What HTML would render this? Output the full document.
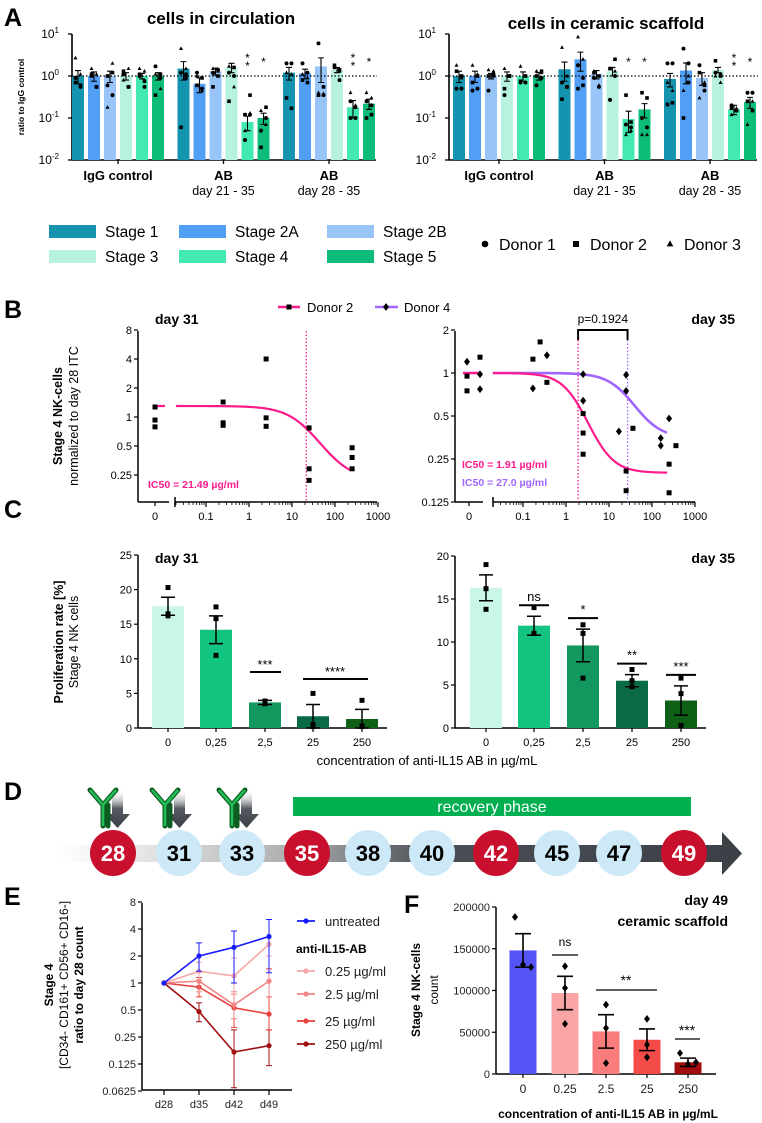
<!DOCTYPE html>
<html><head><meta charset="utf-8"><style>
body{margin:0;background:#fff}
svg{display:block;font-family:"Liberation Sans",Arial,sans-serif}
</style></head><body>
<svg id="fig" width="762" height="1123" viewBox="0 0 762 1123" xmlns="http://www.w3.org/2000/svg">
<defs>
<linearGradient id="tl" x1="0" x2="1" y1="0" y2="0"><stop offset="0" stop-color="#fff"/><stop offset="0.12" stop-color="#e6e6e6"/><stop offset="0.35" stop-color="#a9abad"/><stop offset="0.55" stop-color="#4a4f55"/><stop offset="1" stop-color="#3b4046"/></linearGradient>
<linearGradient id="ar" x1="0" x2="0" y1="0" y2="1"><stop offset="0" stop-color="#fff" stop-opacity="0"/><stop offset="0.5" stop-color="#555a60"/><stop offset="1" stop-color="#3b4046"/></linearGradient>
</defs>
<g font-weight="bold" font-size="25" fill="#000">
<text x="4" y="26">A</text>
<text x="4" y="318">B</text>
<text x="4" y="518">C</text>
<text x="4" y="800">D</text>
<text x="4" y="905">E</text>
<text x="404" y="913">F</text>
</g>
<text x="221" y="24" font-size="17" font-weight="bold" text-anchor="middle">cells in circulation</text>
<text x="606" y="29" font-size="17" font-weight="bold" text-anchor="middle">cells in ceramic scaffold</text>
<text transform="translate(24,97) rotate(-90)" font-size="8.5" font-weight="bold" text-anchor="middle">ratio to IgG control</text>
<g id="A"></g><g id="LEG"></g><g id="B"></g><g id="C"></g><g id="D"></g><g id="E"></g><g id="F"></g>
</svg>
<script>
const NS='http://www.w3.org/2000/svg';
function mk(tag,attrs,name,parent,txt){
  const el=document.createElementNS(NS,tag);
  for(const k in attrs) el.setAttribute(k,attrs[k]);
  
  
  if(txt!==undefined) el.textContent=txt;
  (parent||document.getElementById('fig')).appendChild(el);
  return el;
}
function marker(shape,x,y,s,g,name,fill){
  fill=fill||'#000';
  if(shape==='c') return mk('circle',{cx:x,cy:y,r:s*0.55,fill:fill},name,g);
  if(shape==='s') return mk('rect',{x:x-s/2,y:y-s/2,width:s,height:s,fill:fill},name,g);
  if(shape==='t') return mk('polygon',{points:`${x},${y-s*0.6} ${x-s*0.55},${y+s*0.4} ${x+s*0.55},${y+s*0.4}`,fill:fill},name,g);
  if(shape==='d') return mk('polygon',{points:`${x},${y-s*0.65} ${x+s*0.5},${y} ${x},${y+s*0.65} ${x-s*0.5},${y}`,fill:fill},name,g);
}

/* ===== Panel A data ===== */
const stageNames=['Stage 1','Stage 2A','Stage 2B','Stage 3','Stage 4','Stage 5'];
const stageColors=['#1594b0','#519ff5','#98c4f7','#b6f2de','#42eab0','#0cbc78'];
const groupLabels=['IgG control','AB','AB'];
const groupSub=['','day 21 - 35','day 28 - 35'];
const circVals=[[1,1,1,1,1,1],[1.5,0.65,1.3,1.6,0.08,0.1],[1.2,1.15,1.7,1.4,0.18,0.22]];
const circErr=[[0.35,0.25,0.3,0.2,0.15,0.2],[0.7,0.25,0.25,0.4,0.03,0.03],[0.4,0.3,1.0,0.2,0.08,0.06]];
const circPts=[
[[0.7,0.55,0.9,0.6,2.7,1.1],[1.0,0.55,1.1,0.55,1.5,1.1],[0.6,0.35,1.0,1.2,0.18,2.0],[1.1,0.55,1.3,0.55,0.8,1.5],[1.0,0.55,1.1,0.75,1.5,1.3],[1.7,0.9,0.35,1.1,1.1,0.5]],
[[1.2,1.1,0.06,0.9,4.5,1.5],[1.2,0.5,0.6,0.9,1.0,0.45],[1.2,1.4,0.55,1.0,1.5,1.3],[1.2,1.0,0.25,1.6,1.7,0.55],[0.03,0.12,0.12,0.35,0.05,0.13],[0.05,0.1,0.02,0.18,0.15,0.07]],
[[2,2,0.3,0.17,1.2,1.1],[2,1.2,0.8,0.7,1.1,0.9],[6,0.35,0.35,0.55,0.4,0.38],[1.6,0.8,1.8,1.4,1.7,1.3],[0.25,0.1,0.1,0.18,0.4,0.2],[0.25,0.2,0.1,0.12,0.4,0.3]]];
const circStars=[['','','','','',''],['','','','','**','*'],['','','','','**','*']];
const scafVals=[[1,1,1,1,1,1],[1.45,2.5,1.1,1.3,0.095,0.16],[0.85,1.35,0.9,1.4,0.16,0.24]];
const scafErr=[[0.3,0.3,0.15,0.25,0.25,0.2],[0.7,1.2,0.25,0.3,0.05,0.06],[0.3,0.7,0.3,0.2,0.04,0.07]];
const scafPts=[
[[0.5,0.5,1.3,1.0,1.8,0.9],[0.45,0.5,0.7,1.0,1.8,1.1],[0.45,1.1,1.0,1.0,1.4,1.3],[0.35,1.0,0.5,1.0,1.5,1.0],[0.7,0.7,0.75,1.0,1.7,1.0],[0.6,0.9,1.0,1.3,1.3,1.2]],
[[0.7,0.55,0.28,0.55,4.8,1.0],[1.8,0.9,0.5,0.6,8.5,2.5],[0.9,0.55,1.2,1.0,1.3,0.6],[0.27,1.0,1.5,2.5,1.5,1.3],[0.07,0.06,0.35,0.08,0.04,0.05],[0.1,0.06,0.4,0.3,0.04,0.04]],
[[2,2,0.21,0.23,0.7,0.45],[4.5,2,0.1,0.7,0.45,1.0],[1.8,0.45,1.2,0.6,0.3,0.7],[1.2,1.0,2.3,1.1,1.0,0.7],[0.2,0.15,0.17,0.15,0.12,0.17],[0.4,0.4,0.25,0.15,0.07,0.25]]];
const scafStars=[['','','','','',''],['','','','','*','*'],['','','','','**','*']];
const donorShapes=['c','c','s','s','t','t'];
const aTicks=[1,0,-1,-2];

function panelA(ox,axisX,vals,errs,pts,stars,key){
  const g=document.getElementById('A');
  const ya=v=>160-42*(Math.log10(v)+2);
  const xb=(gi,bi)=>ox+78+gi*105.5+bi*16;
  mk('line',{x1:axisX,y1:ya(10),x2:axisX,y2:160,stroke:'#000','stroke-width':1.6},key+'-y-axis',g);
  mk('line',{x1:axisX,y1:160,x2:ox+376,y2:160,stroke:'#000','stroke-width':1.6},key+'-x-axis',g);
  aTicks.forEach(t=>{
    const y=ya(Math.pow(10,t));
    mk('line',{x1:axisX-4,y1:y,x2:axisX,y2:y,stroke:'#000','stroke-width':1.3},key+'-y-tick',g);
    const tx=mk('text',{x:axisX-13,y:y+4,'font-size':12,'text-anchor':'end'},key+'-y-tick-label',g,'10');
    const sp=mk('tspan',{dy:-5,'font-size':8},key+'-tick-exp',tx,String(t));
  });
  vals.forEach((grp,gi)=>{
    const cx=xb(gi,2.5);
    mk('line',{x1:cx,y1:160,x2:cx,y2:164,stroke:'#000','stroke-width':1.3},key+'-x-tick',g);
    mk('text',{x:cx,y:180,'font-size':13,'font-weight':'bold','text-anchor':'middle'},key+'-group-label',g,groupLabels[gi]);
    if(groupSub[gi]) mk('text',{x:cx,y:195,'font-size':12.5,'text-anchor':'middle'},key+'-group-sublabel',g,groupSub[gi]);
    grp.forEach((v,bi)=>{
      const x=xb(gi,bi);
      mk('rect',{x:x-6,y:ya(v),width:12,height:160-ya(v),fill:stageColors[bi]},key+'-bar',g);
      const e=errs[gi][bi];
      const y1=ya(v+e),y2=ya(Math.max(v-e,v*0.3));
      mk('path',{d:`M${x},${y1}V${y2}M${x-3},${y1}H${x+3}M${x-3},${y2}H${x+3}`,stroke:'#000','stroke-width':1.1,fill:'none'},key+'-error-bar',g);
      pts[gi][bi].forEach((p,pi)=>{
        const jx=x+((pi%2)?2.5:-2.5);
        marker(donorShapes[pi],jx,ya(p),3.6,g,key+'-donor-point');
      });
      const st=stars[gi][bi];
      if(st){
        for(let k=0;k<st.length;k++) mk('text',{x:x,y:(st.length===2?62:66)+k*8,'font-size':12,'text-anchor':'middle'},key+'-significance',g,'*');
      }
    });
  });
  mk('line',{x1:axisX,y1:ya(1),x2:ox+377,y2:ya(1),stroke:'#000','stroke-width':1.2,'stroke-dasharray':'1.5,2'},key+'-reference-line',g);
}
panelA(0,72,circVals,circErr,circPts,circStars,'circ');
panelA(381,449,scafVals,scafErr,scafPts,scafStars,'scaf');

/* legend */
(function(){
  const g=document.getElementById('LEG');
  const bx=[49,179,327], by=[225,250];
  stageNames.forEach((n,i)=>{
    const x=bx[i%3],y=by[Math.floor(i/3)];
    mk('rect',{x:x,y:y,width:47,height:13,fill:stageColors[i]},'legend-swatch-stage',g);
    mk('text',{x:x+56,y:y+12,'font-size':15.5},'legend-label-stage',g,n);
  });
  const dn=['Donor 1','Donor 2','Donor 3'],dx=[485,576,670],ds=['c','s','t'];
  dn.forEach((n,i)=>{
    marker(ds[i],dx[i],244,6,g,'legend-donor-marker');
    mk('text',{x:dx[i]+14,y:250,'font-size':16},'legend-donor-label',g,n);
  });
})();

/* ===== Panel B ===== */
const bTicksL=[8,4,2,1,0.5,0.25];
const bTicksR=[2,1,0.5,0.25,0.125];
const bXTicks=[0.1,1,10,100,1000];
const b31Conc=[0,0,0,0.25,0.25,0.25,2.5,2.5,2.5,25,25,25,250,250,250];
const b31Val=[1.27,0.93,0.79,1.43,0.87,0.82,4.0,0.98,0.8,0.77,0.29,0.22,0.48,0.38,0.29];
const b35D2Conc=[0,0,0,0.17,0.25,0.36,2.5,2.5,2.5,25,25,36,250,250,360];
const b35D2Val=[0.95,0.75,1.29,1.25,1.65,0.86,0.52,0.38,0.27,0.206,0.15,0.41,0.23,0.145,0.31];
const b35D4Conc=[0,0,0,0.17,0.36,2.5,2.5,17,25,25,250,160,160];
const b35D4Val=[1.2,0.98,0.77,0.78,1.33,0.98,0.64,0.39,0.97,0.75,0.48,0.35,0.31];
const zeroJit=[-2,-2,11,0,0,0,0,0,0,0,0,0,0,0,0];
const zeroJit4=[-2,11,11,0,0,0,0,0,0,0,0,0,0];
function hill(x,top,bot,ic,h){return bot+(top-bot)/(1+Math.pow(x/ic,h));}
function logAxis(g,axisX,xLog0,zeroX,logStart,logEnd,yBot,yTop,ticks,yf,key){
  mk('line',{x1:axisX,y1:yTop,x2:axisX,y2:yBot,stroke:'#000','stroke-width':1.5},key+'-y-axis',g);
  mk('line',{x1:axisX,y1:yBot,x2:zeroX+14,y2:yBot,stroke:'#000','stroke-width':1.5},key+'-x-axis-zero',g);
  mk('line',{x1:logStart,y1:yBot,x2:logEnd,y2:yBot,stroke:'#000','stroke-width':1.5},key+'-x-axis',g);
  mk('line',{x1:logStart,y1:yBot-5,x2:logStart,y2:yBot+5,stroke:'#000','stroke-width':1.5},key+'-axis-break',g);
  mk('line',{x1:zeroX,y1:yBot,x2:zeroX,y2:yBot+4,stroke:'#000','stroke-width':1.2},key+'-x-tick',g);
  mk('text',{x:zeroX,y:yBot+18,'font-size':11,'text-anchor':'middle'},key+'-x-tick-label',g,'0');
  ticks.forEach(t=>{
    const y=yf(t);
    mk('line',{x1:axisX-4,y1:y,x2:axisX,y2:y,stroke:'#000','stroke-width':1.2},key+'-y-tick',g);
    mk('text',{x:axisX-6,y:y+4,'font-size':11,'text-anchor':'end'},key+'-y-tick-label',g,String(t));
  });
  bXTicks.forEach((t,i)=>{
    const x=xLog0+43*Math.log10(t);
    mk('line',{x1:x,y1:yBot,x2:x,y2:yBot+5,stroke:'#000','stroke-width':1.2},key+'-x-tick',g);
    mk('text',{x:x,y:yBot+18,'font-size':11,'text-anchor':'middle'},key+'-x-tick-label',g,String(t));
    if(i<4) for(let m=2;m<10;m++){const xm=xLog0+43*Math.log10(t*m);
      mk('line',{x1:xm,y1:yBot,x2:xm,y2:yBot+3,stroke:'#000','stroke-width':0.8},key+'-x-minor-tick',g);}
  });
  for(let m=2;m<10;m++){const xm=xLog0+43*Math.log10(0.01*m); if(xm>logStart) mk('line',{x1:xm,y1:yBot,x2:xm,y2:yBot+3,stroke:'#000','stroke-width':0.8},key+'-x-minor-tick',g);}
}
(function(){
  const g=document.getElementById('B');
  const yl=v=>417-29*Math.log2(v), xl=c=>249+43*Math.log10(c), zl=155;
  logAxis(g,138,249,zl,175,377,502,331,bTicksL,yl,'b31');
  mk('text',{x:155,y:324,'font-size':14,'font-weight':'bold'},'b31-title',g,'day 31');
  mk('line',{x1:xl(21.49),y1:331,x2:xl(21.49),y2:502,stroke:'#ff1a8c','stroke-width':1.3,'stroke-dasharray':'1.5,2'},'b31-ic50-line',g);
  let d=`M${zl},${yl(1.3)}H${zl+10}M176,${yl(hill(0.02,1.3,0.22,21.49,1.2))}`;
  for(let e=-1.7;e<=2.4;e+=0.05){const c=Math.pow(10,e);d+=`L${xl(c)},${yl(hill(c,1.3,0.22,21.49,1.2))}`;}
  mk('path',{d:d,stroke:'#ff1a8c','stroke-width':2.2,fill:'none'},'b31-fit-curve-donor2',g);
  b31Conc.forEach((c,i)=>marker('s',c===0?zl:xl(c),yl(b31Val[i]),5,g,'b31-point-donor2'));
  mk('text',{x:148,y:488,'font-size':10.5,'font-weight':'bold',fill:'#ff1a8c'},'b31-ic50-label',g,'IC50 = 21.49 µg/ml');
  const yr=v=>373-43*Math.log2(v), xr=c=>566+43*Math.log10(c), zr=469;
  logAxis(g,455,566,zr,493,695,502,331,bTicksR,yr,'b35');
  mk('text',{x:735,y:324,'font-size':14,'font-weight':'bold','text-anchor':'end'},'b35-title',g,'day 35');
  mk('line',{x1:xr(1.91),y1:340,x2:xr(1.91),y2:502,stroke:'#ff1a8c','stroke-width':1.3,'stroke-dasharray':'1.5,2'},'b35-ic50-line-donor2',g);
  mk('line',{x1:xr(27),y1:340,x2:xr(27),y2:502,stroke:'#a066ff','stroke-width':1.3,'stroke-dasharray':'1.5,2'},'b35-ic50-line-donor4',g);
  mk('path',{d:`M${xr(1.91)},340V330H${xr(27)}V340`,stroke:'#000','stroke-width':2,fill:'none'},'b35-comparison-bracket',g);
  mk('text',{x:(xr(1.91)+xr(27))/2,y:323,'font-size':12,'text-anchor':'middle'},'b35-p-value',g,'p=0.1924');
  let d4=`M${zr-6},${yr(1)}H${zr+12}M494,${yr(1)}`,d2=`M${zr-6},${yr(1)}H${zr+12}M494,${yr(1)}`;
  for(let e=-1.7;e<=2.4;e+=0.05){const c=Math.pow(10,e);
    d2+=`L${xr(c)},${yr(hill(c,1,0.2,1.91,1.5))}`;d4+=`L${xr(c)},${yr(hill(c,1,0.35,27,1.4))}`;}
  mk('path',{d:d4,stroke:'#a066ff','stroke-width':2.6,fill:'none'},'b35-fit-curve-donor4',g);
  mk('path',{d:d2,stroke:'#ff1a8c','stroke-width':2.2,fill:'none'},'b35-fit-curve-donor2',g);
  b35D2Conc.forEach((c,i)=>marker('s',(c===0?zr:xr(c))+zeroJit[i],yr(b35D2Val[i]),5,g,'b35-point-donor2'));
  b35D4Conc.forEach((c,i)=>marker('d',(c===0?zr:xr(c))+zeroJit4[i],yr(b35D4Val[i]),6,g,'b35-point-donor4'));
  mk('text',{x:462,y:468,'font-size':10.5,'font-weight':'bold',fill:'#ff1a8c'},'b35-ic50-label-donor2',g,'IC50 = 1.91 µg/ml');
  mk('text',{x:462,y:486,'font-size':10.5,'font-weight':'bold',fill:'#a066ff'},'b35-ic50-label-donor4',g,'IC50 = 27.0 µg/ml');
  mk('line',{x1:278,y1:307,x2:300,y2:307,stroke:'#ff1a8c','stroke-width':2.5},'b-legend-line-donor2',g);
  marker('s',289,307,5,g,'b-legend-marker-donor2');
  mk('text',{x:307,y:312,'font-size':13},'b-legend-label-donor2',g,'Donor 2');
  mk('line',{x1:375,y1:307,x2:398,y2:307,stroke:'#a066ff','stroke-width':2.5},'b-legend-line-donor4',g);
  marker('d',386,307,6,g,'b-legend-marker-donor4');
  mk('text',{x:404,y:312,'font-size':13},'b-legend-label-donor4',g,'Donor 4');
  mk('text',{transform:'translate(62,416) rotate(-90)','font-size':12.5,'font-weight':'bold','text-anchor':'middle'},'b-y-axis-title',g,'Stage 4 NK-cells');
  mk('text',{transform:'translate(78,416) rotate(-90)','font-size':12.5,'text-anchor':'middle'},'b-y-axis-subtitle',g,'normalized to day 28 ITC');
})();

/* ===== Panel C ===== */
const cCats=['0','0,25','2,5','25','250'];
const c31Vals=[17.6,14.2,3.7,1.7,1.3];
const c31Err=[1.3,2.0,0.3,1.7,1.4];
const c31Pts=[[16.2,20.3,16.5],[17.5,15.8,10.5],[3.5,3.8,3.9],[5,0.2,0.5],[4,0.3,0.2]];
const c35Vals=[16.3,11.9,9.6,5.5,3.2];
const c35Err=[1.5,1.1,1.9,0.7,1.7];
const c35Pts=[[19,16.2,13.8],[14,11,11],[12,11,5.8],[6.8,5.5,4.8],[5.8,4,0.3]];
const cColors=['#c9f6e6','#12c47f','#12975f','#086b45','#0d6016'];
const c31Ticks=[0,5,10,15,20,25];
const c35Ticks=[0,5,10,15,20];
const c35Sig=['','ns','*','**','***'];
(function(){
  const g=document.getElementById('C');
  function bars(axisX,xs,vals,err,pts,ticks,ymax,yTop,key){
    const y=v=>728-(728-yTop)*v/ymax;
    mk('line',{x1:axisX,y1:yTop,x2:axisX,y2:728,stroke:'#000','stroke-width':1.5},key+'-y-axis',g);
    mk('line',{x1:axisX,y1:728,x2:xs[4]+25,y2:728,stroke:'#000','stroke-width':1.5},key+'-x-axis',g);
    ticks.forEach(t=>{mk('line',{x1:axisX-4,y1:y(t),x2:axisX,y2:y(t),stroke:'#000','stroke-width':1.2},key+'-y-tick',g);
      mk('text',{x:axisX-6,y:y(t)+4,'font-size':11,'text-anchor':'end'},key+'-y-tick-label',g,String(t));});
    vals.forEach((v,i)=>{
      const x=xs[i];
      mk('rect',{x:x-16,y:y(v),width:32,height:728-y(v),fill:cColors[i]},key+'-bar',g);
      mk('path',{d:`M${x},${y(v+err[i])}V${y(Math.max(0,v-err[i]))}M${x-7},${y(v+err[i])}H${x+7}M${x-7},${y(Math.max(0,v-err[i]))}H${x+7}`,stroke:'#000','stroke-width':1.5,fill:'none'},key+'-error-bar',g);
      pts[i].forEach(p=>marker('s',x,y(p),5,g,key+'-point'));
      mk('line',{x1:x,y1:728,x2:x,y2:732,stroke:'#000','stroke-width':1.2},key+'-x-tick',g);
      mk('text',{x:x,y:746,'font-size':11,'text-anchor':'middle'},key+'-x-tick-label',g,cCats[i]);
    });
    return y;
  }
  const xs31=[168,216,265,313,362], xs35=[486,534,583,632,681];
  bars(138,xs31,c31Vals,c31Err,c31Pts,c31Ticks,25,555,'c31');
  const y35=bars(455,xs35,c35Vals,c35Err,c35Pts,c35Ticks,20,556,'c35');
  mk('text',{x:155,y:563,'font-size':14,'font-weight':'bold'},'c31-title',g,'day 31');
  mk('text',{x:735,y:563,'font-size':14,'font-weight':'bold','text-anchor':'end'},'c35-title',g,'day 35');
  mk('line',{x1:250,y1:672,x2:281,y2:672,stroke:'#000','stroke-width':2},'c31-sig-line-2.5',g);
  mk('text',{x:265,y:669,'font-size':13,'text-anchor':'middle'},'c31-sig-2.5',g,'***');
  mk('line',{x1:303,y1:679,x2:368,y2:679,stroke:'#000','stroke-width':2},'c31-sig-line-25-250',g);
  mk('text',{x:335,y:676,'font-size':13,'text-anchor':'middle'},'c31-sig-25-250',g,'****');
  c35Sig.forEach((s,i)=>{if(!s)return;
    const yl=y35(c35Vals[i]+c35Err[i])-11;
    mk('line',{x1:xs35[i]-15,y1:yl,x2:xs35[i]+15,y2:yl,stroke:'#000','stroke-width':2},'c35-sig-line',g);
    mk('text',{x:xs35[i],y:yl-4,'font-size':13,'text-anchor':'middle'},'c35-sig-label',g,s);});
  mk('text',{x:427,y:765,'font-size':13,'text-anchor':'middle'},'c-x-axis-title',g,'concentration of anti-IL15 AB in µg/mL');
  mk('text',{transform:'translate(63,642) rotate(-90)','font-size':12.5,'font-weight':'bold','text-anchor':'middle'},'c-y-axis-title',g,'Proliferation rate [%]');
  mk('text',{transform:'translate(78,642) rotate(-90)','font-size':12.5,'text-anchor':'middle'},'c-y-axis-subtitle',g,'Stage 4 NK cells');
})();

/* ===== Panel D ===== */
const dDays=['28','31','33','35','38','40','42','45','47','49'];
const dKind=['r','b','b','r','b','b','r','b','b','r'];
(function(){
  const g=document.getElementById('D');
  mk('path',{d:'M60,845H722V832L742,853.5L722,875V862H60Z',fill:'url(#tl)'},'timeline-arrow',g);
  mk('rect',{x:293,y:797,width:398,height:19,fill:'#00b050'},'recovery-phase-bar',g);
  mk('text',{x:492,y:812,'font-size':16,fill:'#fff','text-anchor':'middle'},'recovery-phase-label',g,'recovery phase');
  const xs=[113,179,242,307,368,432,496,557,619,684];
  dDays.forEach((d,i)=>{
    mk('circle',{cx:xs[i],cy:853,r:23,fill:dKind[i]==='r'?'#c8102e':'#cde9f8'},'timepoint-circle-day-'+d,g);
    mk('text',{x:xs[i],y:861,'font-size':22,'font-weight':'bold','text-anchor':'middle',fill:dKind[i]==='r'?'#fff':'#000'},'timepoint-label-day-'+d,g,d);
  });
  [106,168,235].forEach((x,i)=>{
    mk('path',{d:`M${x+6},789h11v25h7l-12.5,14l-12.5,-14h7z`,fill:'url(#ar)'},'treatment-arrow',g);
    mk('path',{d:`M${x-16},790L${x-3},805V826M${x+10},790L${x-3},805M${x-3},805V826M${x+2},805V826`,stroke:'#0d5c22','stroke-width':5,fill:'none','stroke-linecap':'round'},'antibody-icon',g);
    mk('path',{d:`M${x-16},790L${x-3},805V826M${x+10},790L${x-3},805`,stroke:'#22bb55','stroke-width':2.6,fill:'none'},'antibody-icon-fill',g);
  });
})();

/* ===== Panel E ===== */
const eDays=['d28','d35','d42','d49'];
const eSeriesNames=['untreated','0.25 µg/ml','2.5 µg/ml','25 µg/ml','250 µg/ml'];
const eColors=['#1a1aff','#f7a8a8','#f28585','#e8403c','#a01010'];
const eUntreated=[1,2,2.5,3.3];
const e025=[1,1.35,1.2,2.7];
const e25=[1,1.05,0.57,1.05];
const e250=[1,0.9,0.53,0.45];
const e2500=[1,0.48,0.17,0.2];
const eLow=[[1,1.35,1,1.3],[1,1.1,0.75,1.4],[1,0.8,0.4,0.7],[1,0.7,0.32,0.3],[1,0.37,0.068,0.12]];
const eHigh=[[1,2.8,3.8,5.1],[1,1.7,1.9,2.0],[1,1.35,0.8,1.45],[1,1.15,0.75,0.7],[1,0.6,0.3,0.3]];
const eTicks=[8,4,2,1,0.5,0.25,0.125,0.0625];
(function(){
  const g=document.getElementById('E');
  const y=v=>983-27*Math.log2(v), x=i=>164+35*i;
  mk('line',{x1:142,y1:903,x2:142,y2:1090,stroke:'#000','stroke-width':1.5},'e-y-axis',g);
  mk('line',{x1:142,y1:1090,x2:292,y2:1090,stroke:'#000','stroke-width':1.5},'e-x-axis',g);
  eTicks.forEach(t=>{mk('line',{x1:138,y1:y(t),x2:142,y2:y(t),stroke:'#000','stroke-width':1.2},'e-y-tick',g);
    mk('text',{x:136,y:y(t)+4,'font-size':11,'text-anchor':'end',fill:'#222'},'e-y-tick-label',g,String(t));});
  eDays.forEach((d,i)=>{mk('line',{x1:x(i),y1:1090,x2:x(i),y2:1095,stroke:'#000','stroke-width':1.2},'e-x-tick',g);
    mk('text',{x:x(i),y:1108,'font-size':11,'text-anchor':'middle',fill:'#222'},'e-x-tick-label',g,d);});
  const series=[eUntreated,e025,e25,e250,e2500];
  for(let s=series.length-1;s>=0;s--){
    const vals=series[s];
    vals.forEach((v,i)=>{if(i===0)return;
      mk('path',{d:`M${x(i)},${y(eHigh[s][i])}V${y(eLow[s][i])}M${x(i)-3},${y(eHigh[s][i])}h6M${x(i)-3},${y(eLow[s][i])}h6`,stroke:eColors[s],'stroke-width':1,fill:'none'},'e-error-bar',g);});
    mk('polyline',{points:vals.map((v,i)=>x(i)+','+y(v)).join(' '),stroke:eColors[s],'stroke-width':1.6,fill:'none'},'e-line-'+s,g);
    vals.forEach((v,i)=>mk('circle',{cx:x(i),cy:y(v),r:2.6,fill:eColors[s]},'e-point',g));
  }
  const ly=[921,971,994,1021,1044];
  eSeriesNames.forEach((n,i)=>{
    mk('line',{x1:297,y1:ly[i],x2:315,y2:ly[i],stroke:eColors[i],'stroke-width':1.8},'e-legend-line',g);
    mk('circle',{cx:306,cy:ly[i],r:2.6,fill:eColors[i]},'e-legend-marker',g);
    mk('text',{x:325,y:ly[i]+5,'font-size':13,fill:'#222'},'e-legend-label',g,n);
  });
  mk('text',{x:296,y:953,'font-size':12,'font-weight':'bold'},'e-legend-group-title',g,'anti-IL15-AB');
  mk('text',{transform:'translate(53,985) rotate(-90)','font-size':12,'font-weight':'bold','text-anchor':'middle'},'e-y-axis-title',g,'Stage 4');
  mk('text',{transform:'translate(68,985) rotate(-90)','font-size':12,'text-anchor':'middle'},'e-y-axis-subtitle',g,'[CD34-  CD161+ CD56+ CD16-]');
  mk('text',{transform:'translate(83,985) rotate(-90)','font-size':12,'font-weight':'bold','text-anchor':'middle'},'e-y-axis-title-2',g,'ratio to day 28 count');
})();

/* ===== Panel F ===== */
const fCats=['0','0.25','2.5','25','250'];
const fVals=[148000,97000,51000,41000,14000];
const fErr=[20000,20000,20000,13000,5000];
const fPts=[[188000,131000,128000],[129000,103000,60000],[83000,55000,13000],[66000,35000,20000],[25000,12000,14000]];
const fColors=['#5555f5','#f9a5a5','#fa7d7d','#f24b48','#a10d0d'];
const fTicks=[0,50000,100000,150000,200000];
(function(){
  const g=document.getElementById('F');
  const y=v=>1074-167*v/200000, xs=[523,565,606,647,688];
  mk('line',{x1:496,y1:907,x2:496,y2:1074,stroke:'#000','stroke-width':1.5},'f-y-axis',g);
  mk('line',{x1:496,y1:1074,x2:716,y2:1074,stroke:'#000','stroke-width':1.5},'f-x-axis',g);
  fTicks.forEach(t=>{mk('line',{x1:492,y1:y(t),x2:496,y2:y(t),stroke:'#000','stroke-width':1.2},'f-y-tick',g);
    mk('text',{x:490,y:y(t)+4,'font-size':11,'text-anchor':'end',fill:'#222'},'f-y-tick-label',g,String(t));});
  fVals.forEach((v,i)=>{
    const x=xs[i];
    mk('rect',{x:x-13.5,y:y(v),width:27,height:1074-y(v),fill:fColors[i]},'f-bar',g);
    mk('path',{d:`M${x},${y(v+fErr[i])}V${y(v-fErr[i])}M${x-8},${y(v+fErr[i])}h16M${x-8},${y(v-fErr[i])}h16`,stroke:'#000','stroke-width':1.6,fill:'none'},'f-error-bar',g);
    fPts[i].forEach((p,j)=>marker('d',x+(j===1?0:(j===0?-8:8))*(i===0||i===4?1:0),y(p),6,g,'f-point'));
    mk('line',{x1:x,y1:1074,x2:x,y2:1078,stroke:'#000','stroke-width':1.2},'f-x-tick',g);
    mk('text',{x:x,y:1093,'font-size':12,'text-anchor':'middle',fill:'#222'},'f-x-tick-label',g,fCats[i]);
  });
  mk('line',{x1:552,y1:955,x2:578,y2:955,stroke:'#000','stroke-width':1.3},'f-sig-line-0.25',g);
  mk('text',{x:565,y:946,'font-size':12,'text-anchor':'middle'},'f-sig-0.25',g,'ns');
  mk('line',{x1:596,y1:990,x2:657,y2:990,stroke:'#000','stroke-width':1.3},'f-sig-line-2.5-25',g);
  mk('text',{x:626,y:985,'font-size':14,'text-anchor':'middle'},'f-sig-2.5-25',g,'**');
  mk('line',{x1:675,y1:1039,x2:700,y2:1039,stroke:'#000','stroke-width':1.3},'f-sig-line-250',g);
  mk('text',{x:687,y:1035,'font-size':14,'text-anchor':'middle'},'f-sig-250',g,'***');
  mk('text',{x:728,y:905,'font-size':14,'font-weight':'bold','text-anchor':'end'},'f-title',g,'day 49');
  mk('text',{x:728,y:926,'font-size':14,'font-weight':'bold','text-anchor':'end'},'f-subtitle',g,'ceramic scaffold');
  mk('text',{x:608,y:1118,'font-size':12,'font-weight':'bold','text-anchor':'middle'},'f-x-axis-title',g,'concentration of anti-IL15 AB in µg/mL');
  mk('text',{transform:'translate(420,990) rotate(-90)','font-size':12,'font-weight':'bold','text-anchor':'middle'},'f-y-axis-title',g,'Stage 4 NK-cells');
  mk('text',{transform:'translate(438,990) rotate(-90)','font-size':12,'text-anchor':'middle'},'f-y-axis-subtitle',g,'count');
})();
</script>
</body></html>
